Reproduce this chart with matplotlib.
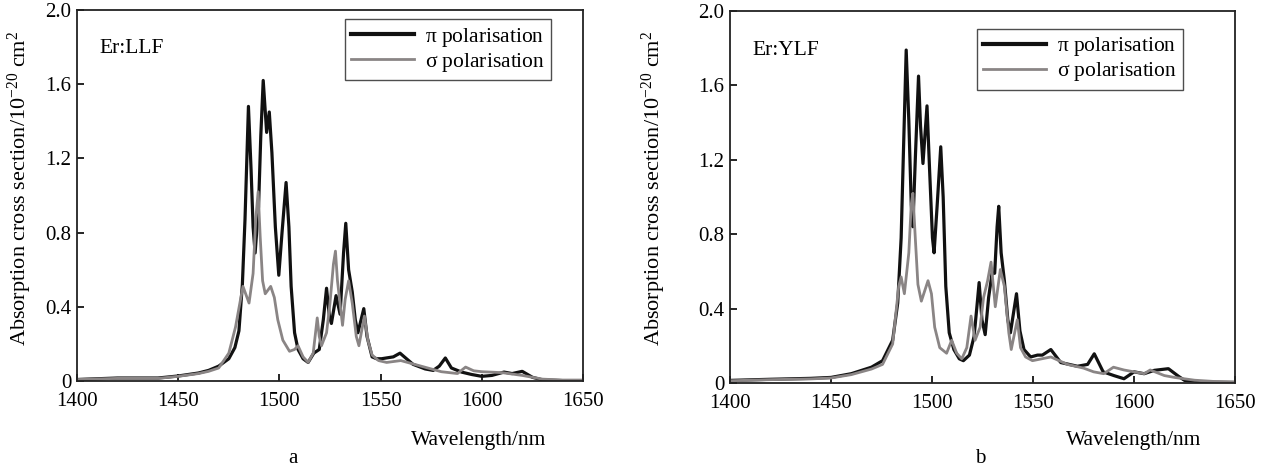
import matplotlib
matplotlib.use("Agg")
import matplotlib.pyplot as plt

plt.rcParams['font.family'] = ['Liberation Serif', 'DejaVu Serif']
plt.rcParams['mathtext.fontset'] = 'custom'
plt.rcParams['mathtext.rm'] = 'Liberation Serif'
plt.rcParams['mathtext.it'] = 'Liberation Serif:italic'

# ---- Er:LLF, pi polarisation ----
llf_pi_wl = [1400, 1420, 1440, 1450, 1460, 1465, 1470, 1475, 1478, 1480, 1481.7, 1483,
             1484.7, 1486, 1487, 1488, 1489.7, 1490.8, 1492, 1493.7, 1495, 1496.3,
             1498, 1499.7, 1501.3, 1503.3, 1504.7, 1505.8, 1507.5, 1509.2, 1511.7, 1514.2,
             1517, 1519.7, 1521.7, 1523.3, 1524.7, 1525.7, 1528, 1530, 1531.7, 1532.8,
             1534.2, 1536, 1537.5, 1538.8, 1541.7, 1543.3, 1545.8, 1548, 1550.5, 1556.3,
             1559.6, 1566, 1572, 1576, 1579, 1582, 1585, 1590, 1595, 1600, 1605, 1611,
             1615, 1620, 1625, 1630, 1640, 1650]
llf_pi_val = [0.008, 0.016, 0.016, 0.027, 0.043, 0.057, 0.08, 0.12, 0.18, 0.27, 0.52, 0.87,
              1.48, 1.14, 0.83, 0.69, 0.94, 1.32, 1.62, 1.34, 1.45, 1.23,
              0.83, 0.57, 0.80, 1.07, 0.83, 0.51, 0.26, 0.17, 0.12, 0.10,
              0.15, 0.17, 0.33, 0.50, 0.35, 0.31, 0.46, 0.36, 0.69, 0.85,
              0.60, 0.48, 0.33, 0.26, 0.39, 0.24, 0.13, 0.12, 0.12, 0.13,
              0.15, 0.09, 0.065, 0.057, 0.08, 0.124, 0.07, 0.048, 0.035, 0.025, 0.03, 0.048,
              0.04, 0.052, 0.02, 0.006, 0.002, 0.0]

# ---- Er:LLF, sigma polarisation ----
llf_si_wl = [1400, 1420, 1440, 1450, 1460, 1465, 1470, 1475, 1478.3, 1480.8, 1482, 1485,
             1487, 1488.3, 1489.5, 1490.5, 1491.7, 1493, 1495.7, 1497.5, 1499.2, 1501.7,
             1505, 1507.5, 1509.2, 1511.7, 1514.2, 1516.7, 1518.7, 1519.7, 1520.8, 1523.3,
             1525, 1526.7, 1527.7, 1528.7, 1531.2, 1532.5, 1534.2, 1536, 1538, 1539.3,
             1542, 1543.7, 1545.8, 1549, 1553, 1560, 1570, 1580, 1588, 1592, 1596,
             1600, 1610, 1620, 1630, 1640, 1650]
llf_si_val = [0.008, 0.014, 0.014, 0.025, 0.04, 0.052, 0.07, 0.15, 0.29, 0.44, 0.51, 0.42,
              0.58, 0.87, 1.02, 0.78, 0.54, 0.47, 0.51, 0.45, 0.33, 0.22,
              0.16, 0.17, 0.19, 0.13, 0.10, 0.15, 0.34, 0.24, 0.19, 0.26,
              0.42, 0.63, 0.70, 0.54, 0.30, 0.44, 0.54, 0.42, 0.24, 0.19,
              0.35, 0.22, 0.14, 0.11, 0.10, 0.11, 0.08, 0.05, 0.04, 0.075, 0.055,
              0.05, 0.045, 0.03, 0.01, 0.005, 0.005]

# ---- Er:YLF, pi polarisation ----
ylf_pi_wl = [1400, 1420, 1440, 1450, 1460, 1470, 1475.5, 1480.5, 1483, 1484.7, 1485.8, 1487.2,
             1488.5, 1489.7, 1490.5, 1491.8, 1493.3, 1494.3, 1495.5, 1497.5, 1498.8, 1500.2,
             1501, 1502.5, 1504.3, 1505.5, 1506.8, 1508.5, 1510.8, 1513.5, 1515.5, 1518.5,
             1520.8, 1522.2, 1523.3, 1524.7, 1526.3, 1528, 1529.7, 1531, 1532.2, 1533,
             1534.2, 1535.8, 1537.5, 1538.8, 1541.8, 1543.5, 1545.5, 1548.8, 1552.2, 1554.6,
             1558.8, 1563.7, 1572, 1577, 1580.3, 1584.7, 1590, 1595, 1600, 1605, 1610,
             1617, 1622, 1625, 1635, 1650]
ylf_pi_val = [0.014, 0.02, 0.025, 0.03, 0.05, 0.085, 0.12, 0.23, 0.43, 0.78, 1.23, 1.79,
              1.41, 0.96, 0.84, 1.23, 1.65, 1.38, 1.18, 1.49, 1.14, 0.78,
              0.70, 0.95, 1.27, 1.0, 0.52, 0.27, 0.18, 0.13, 0.12, 0.15,
              0.25, 0.41, 0.54, 0.34, 0.26, 0.46, 0.59, 0.59, 0.84, 0.95,
              0.70, 0.55, 0.34, 0.27, 0.48, 0.28, 0.18, 0.14, 0.15, 0.15,
              0.18, 0.11, 0.09, 0.10, 0.157, 0.06, 0.04, 0.023, 0.06, 0.05, 0.068,
              0.077, 0.036, 0.014, 0.005, 0.003]

# ---- Er:YLF, sigma polarisation ----
ylf_si_wl = [1400, 1420, 1440, 1450, 1460, 1470, 1475.5, 1480.5, 1483.5, 1484.7, 1486.3, 1488.5,
             1489.7, 1490.5, 1491.7, 1493, 1494.7, 1498, 1499.7, 1501.3, 1503.8, 1507.2,
             1509.7, 1512.2, 1514.7, 1517.2, 1519.3, 1521.3, 1523.8, 1525.5, 1527.5, 1529.2,
             1531.3, 1533.8, 1535.8, 1538, 1539.2, 1542.2, 1543.8, 1546.3, 1549.7, 1558.8,
             1567, 1575, 1580, 1585, 1589.8, 1595, 1600, 1605, 1608, 1615, 1620,
             1630, 1640, 1650]
ylf_si_val = [0.012, 0.018, 0.022, 0.027, 0.045, 0.075, 0.10, 0.21, 0.52, 0.57, 0.48, 0.70,
              0.96, 1.02, 0.78, 0.53, 0.44, 0.55, 0.48, 0.30, 0.19, 0.16,
              0.23, 0.16, 0.13, 0.19, 0.36, 0.23, 0.30, 0.46, 0.55, 0.65,
              0.41, 0.61, 0.52, 0.27, 0.18, 0.34, 0.19, 0.14, 0.12, 0.14,
              0.10, 0.08, 0.06, 0.05, 0.085, 0.07, 0.06, 0.05, 0.07, 0.04, 0.03,
              0.015, 0.008, 0.005]

panels = [
    ("Er:LLF", "a", llf_pi_wl, llf_pi_val, llf_si_wl, llf_si_val),
    ("Er:YLF", "b", ylf_pi_wl, ylf_pi_val, ylf_si_wl, ylf_si_val),
]

yticks = [0, 0.4, 0.8, 1.2, 1.6, 2.0]
ytick_labels = ["0", "0.4", "0.8", "1.2", "1.6", "2.0"]
xticks = [1400, 1450, 1500, 1550, 1600, 1650]

fig = plt.figure(figsize=(12.67, 4.70), dpi=100)
rects = [[0.0608, 0.1894, 0.3993, 0.7894], [0.5762, 0.1851, 0.3986, 0.7915]]
ylab_x = [0.016, 0.516]
xlab_x = [0.378, 0.895]
sub_x = [0.231, 0.774]
legend_anchor = [(0.937, 0.975), (0.897, 0.952)]

for i, (name, tag, pw, pv, sw, sv) in enumerate(panels):
    ax = fig.add_axes(rects[i])
    ax.plot(pw, pv, color="#111111", lw=2.3, label=r"$\mathrm{\pi}$ polarisation", solid_joinstyle='round')
    ax.plot(sw, sv, color="#8a8585", lw=2.0, label=r"$\mathrm{\sigma}$ polarisation", solid_joinstyle='round')
    ax.set_xlim(1400, 1650)
    ax.set_ylim(0, 2.0)
    ax.set_xticks(xticks)
    ax.set_yticks(yticks)
    ax.set_yticklabels(ytick_labels)
    ax.tick_params(direction="in", length=5, width=1.2, labelsize=15)
    ax.tick_params(axis="x", pad=8)
    ax.tick_params(axis="y", pad=4)
    for s in ax.spines.values():
        s.set_linewidth(1.3)
        s.set_color("#222222")
    ax.text(1411, 1.79, name, fontsize=15.5, va="center", ha="left")
    leg = ax.legend(loc="upper right", bbox_to_anchor=legend_anchor[i], fontsize=15.5,
                    frameon=True, fancybox=False, handlelength=2.9, handletextpad=0.5,
                    borderpad=0.3, labelspacing=0.1, borderaxespad=0.0)
    leg.get_frame().set_edgecolor("#222222")
    leg.get_frame().set_linewidth(1.0)
    leg.legend_handles[0].set_linewidth(3.0)
    fig.text(ylab_x[i], 0.60, "Absorption cross section/10$^{-20}$ cm$^{2}$",
             rotation=90, ha="center", va="center", fontsize=16)
    fig.text(xlab_x[i], 0.062, "Wavelength/nm", ha="center", va="center", fontsize=15.5)
    fig.text(sub_x[i], 0.025, tag, ha="center", va="center", fontsize=15)

fig.savefig("out.png", dpi=100, facecolor="white")
